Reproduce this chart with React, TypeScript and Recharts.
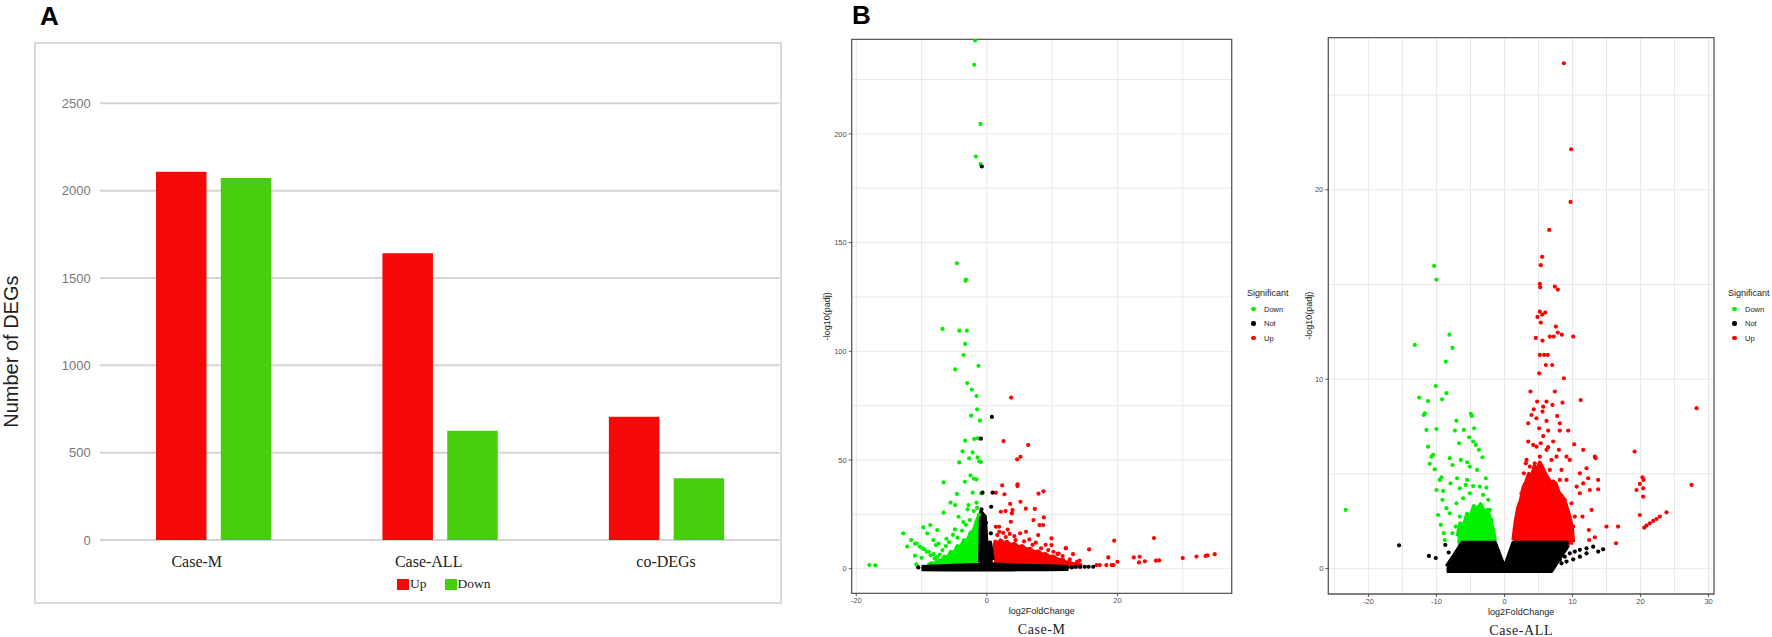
import React from 'react';
import {
  BarChart, Bar, XAxis, YAxis, CartesianGrid, Legend,
  ComposedChart, Scatter, Area, ReferenceArea,
} from 'recharts';

const SANS = '"Liberation Sans", Arial, Helvetica, sans-serif';
const SERIF = '"Liberation Serif", "Times New Roman", serif';

// ---------------- Panel A data ----------------
const CATEGORIES = ['Case-M', 'Case-ALL', 'co-DEGs'];
const UP_COUNTS = [2108, 1641, 706];
const DOWN_COUNTS = [2072, 626, 353];
const COUNT_TICKS = [0, 500, 1000, 1500, 2000, 2500];
const BAR_SERIES = ['Up', 'Down'];

// ---------------- Panel B data ----------------
const LEVELS = ['Down', 'Not', 'Up'];

const M_X_MAJOR = [-20, 0, 20];
const M_X_MINOR = [-10, 10, 30];
const M_Y_MAJOR = [0, 50, 100, 150, 200];
const M_Y_MINOR = [25, 75, 125, 175, 225];

const A_X_MAJOR = [-20, -10, 0, 10, 20, 30];
const A_X_MINOR = [-25, -15, -5, 5, 15, 25];
const A_Y_MAJOR = [0, 10, 20];
const A_Y_MINOR = [5, 15, 25];

type Pt = [number, number];
type Band = [number, number, number];

// Case-M volcano: [log2FoldChange, -log10(padj)]
const M_DOWN: Pt[] = [
  [-1.8, 243], [-1.94, 231.8], [-0.97, 204.6], [-1.68, 189.6], [-0.97, 186.1], [-4.6, 140.5], [-3.26, 132.4], [-3.2, 133],
  [-6.79, 110.3], [-4.23, 109.5], [-3.06, 109.5], [-3.32, 103.4], [-3.57, 98.3], [-1.28, 93.3], [-4.85, 91.7], [-3.01, 85.4],
  [-2.3, 82.4], [-1.58, 79.4], [-1.48, 73.3], [-2.4, 70.4], [-1.07, 68.1], [-3.32, 58.9], [-1.94, 59.7], [-1.38, 60],
  [-3.72, 54], [-2.19, 53.5], [-4.23, 48.9], [-2.7, 50.8], [-1.43, 51.2], [-1.17, 49.4], [-0.92, 49.1], [-2.5, 42.9],
  [-1.99, 41.4], [-1.58, 41.1], [-3.37, 40], [-6.63, 39.7], [-2.19, 35], [-4.59, 34.4], [-0.87, 34.7], [-5.56, 30.4],
  [-4.85, 29.3], [-2.81, 29.3], [-1.58, 30.4], [-2.96, 27.3], [-6.63, 25.8], [-4.34, 23.9], [-1.22, 24.8], [-8.67, 20.1],
  [-9.74, 19], [-12.8, 16.3], [-9.13, 16.3], [-7.6, 17.8], [-4.9, 18.1], [-11.58, 13.2], [-10.77, 11.7], [-8.2, 13.2],
  [-7.8, 10.9], [-6.28, 10.4], [-18.0, 1.7], [-17.1, 1.5], [-10.8, 2],
  [-7.2, 6.5], [-6.8, 8.6], [-5.8, 12.2], [-4.5, 14.3], [-3.8, 17.5], [-3.2, 20.2], [-2.6, 22.4], [-5.2, 15.6],
  [-9.9, 9.5], [-9.2, 7.8], [-8.6, 6.2], [-8.0, 4.8], [-11, 6], [-10, 5], [-12.2, 10.2], [-2.0, 26.5], [-1.5, 28],
  [-3.6, 21.5], [-6.2, 13.8], [-7.4, 11.6], [-11, 11.5], [-10.3, 10.2], [-9.6, 9], [-8.9, 7.8], [-8.2, 6.7], [-7.6, 5.5],
];
const M_NOT: Pt[] = [
  [-0.77, 185], [0.77, 69.8], [-0.92, 59.8], [-0.66, 35], [0.87, 35], [0.66, 28.5], [-0.82, 27.3], [0.61, 16.3],
  [-0.15, 21.2], [-10.5, 0.6], [-9.4, 0.8], [-8.6, 1.0], [10.5, 0.7], [11.2, 0.8], [12.1, 0.6], [13.0, 0.6],
  [13.6, 0.9], [14.3, 0.9], [15.0, 0.9], [15.6, 0.9], [16.3, 0.9],
];
const M_UP: Pt[] = [
  [3.72, 78.7], [2.55, 58.7], [6.33, 56.9], [5.15, 51.5], [4.64, 50.3], [2.35, 38.3], [4.69, 38.8], [4.69, 38],
  [8.67, 35.6], [7.91, 34.5], [1.38, 35], [2.7, 34.2], [3.57, 29.8], [5.15, 30.8], [3.93, 27], [3.83, 25.5],
  [5.97, 27.6], [2.86, 26.5], [2.14, 26.2], [7.35, 27.5], [8.72, 23.6], [7.14, 22.4], [8.62, 20.1], [3.67, 21.6],
  [1.38, 19.3], [1.89, 19.3], [8.06, 20.1], [5.1, 16.3], [7.86, 15.5], [12.09, 9.4], [15.66, 8.9], [12.7, 4.3],
  [14.2, 3.7], [9.9, 14], [9.9, 10.9], [10.2, 7.8], [12.1, 9.5], [19.5, 12.9], [18.6, 5.2], [20, 3.2], [22.5, 5.2],
  [23.4, 5.5], [23.3, 2.9], [24.2, 3.4], [25.6, 14.1], [25.9, 3.7], [26.4, 3.8], [30, 4.9], [32.1, 5.6], [33.5, 5.9],
  [33.8, 6.1], [34.9, 6.7], [16.8, 1.7], [17.3, 1.7], [18.3, 1.7], [19.1, 1.7], [19.4, 1.7], [13.2, 6.7], [11.7, 4.0],
  [2.5, 16.5], [4.2, 15], [6.5, 13.5], [3.2, 18], [6, 17], [9, 11], [11, 7], [7.5, 12],
  [1.6, 15.5], [2.9, 14.6], [4.4, 13.2], [5.7, 12.6], [7.0, 11], [8.3, 9.4], [9.4, 8.6], [10.8, 6.8], [11.6, 5.8],
  [13.8, 3.2], [1.9, 17.0], [3.5, 16.0],
];
const M_DOWN_CLOUD: Band[] = [
  [-9.0, 1, 1.6], [-8.5, 1, 2.6], [-8.0, 1, 2.2], [-7.5, 1, 3.8], [-7.0, 1, 3.4], [-6.5, 1, 5.6], [-6.0, 1, 5.0],
  [-5.5, 1, 7.8], [-5.0, 1, 7.2], [-4.5, 1, 10.4], [-4.0, 1, 9.8], [-3.5, 1, 13.2], [-3.0, 1, 12.6], [-2.5, 1, 16.5],
  [-2.0, 1, 17.5], [-1.6, 1, 21.5], [-1.25, 1, 24], [-1.05, 2, 19],
];
const M_UP_CLOUD: Band[] = [
  [1.1, 1, 7], [1.3, 1, 12.5], [1.7, 1, 11.5], [2.1, 1, 13], [2.6, 1, 11.8], [3.1, 1, 12.4], [3.6, 1, 10.8],
  [4.2, 1, 11.5], [4.8, 1, 9.8], [5.4, 1, 10.4], [6.0, 1, 8.8], [6.6, 1, 9.2], [7.2, 1, 7.6], [7.8, 1, 8.0],
  [8.4, 1, 6.6], [9.0, 1, 6.8], [9.6, 1, 5.4], [10.2, 1, 5.6], [10.8, 1, 4.2], [11.4, 1, 4.0], [12.0, 1, 3.0],
  [12.8, 1, 2.6], [13.6, 1, 1.9], [14.6, 1, 1.5],
];
const M_NOT_BAND: Band[] = [
  [-10, -0.2, 0.8], [-6, -0.3, 1.3], [-1, -0.4, 1.8], [0, -0.4, 2.2], [4, -0.3, 1.5], [9, -0.2, 1.1], [12.5, -0.1, 0.8],
];
const M_NOT_STRIP: Band[] = [
  [-1.05, 0, 3], [-0.9, 0, 26], [-0.3, 0, 24], [0, 0, 9], [0.5, 0, 12], [0.9, 0, 4],
];

// Case-ALL volcano
const A_DOWN: Pt[] = [
  [-23.34, 3.1], [-10.34, 15.98], [-10.0, 15.26], [-13.19, 11.81], [-8.09, 12.35], [-7.65, 11.65],
  [-8.63, 10.93], [-10.1, 9.64], [-8.53, 9.26], [-12.55, 9.03], [-11.23, 8.85], [-9.17, 8.94], [-11.7, 8.2],
  [-11.86, 8.11], [-4.95, 8.17], [-4.8, 8.06], [-7.06, 7.81], [-11.47, 7.32], [-10.0, 7.37], [-7.3, 7.29],
  [-5.98, 7.32], [-4.46, 7.41], [-6.67, 6.62], [-5.2, 6.93], [-4.61, 6.71], [-4.22, 6.53], [-3.77, 6.27],
  [-11.23, 6.44], [-10.49, 6.0], [-10.74, 5.91], [-8.04, 5.83], [-6.42, 5.74], [-3.24, 5.88], [-10.98, 5.53],
  [-7.65, 5.47], [-5.49, 5.61], [-5.1, 5.39], [-10.25, 5.24], [-4.02, 5.21], [-9.26, 4.82], [-9.51, 4.68],
  [-6.96, 4.77], [-5.49, 4.68], [-2.75, 4.77], [-10.0, 4.15], [-9.02, 4.1], [-7.94, 4.5], [-6.57, 4.24],
  [-5.69, 4.42], [-4.61, 4.36], [-3.63, 4.33], [-2.65, 4.28], [-9.12, 3.63], [-8.53, 3.19], [-8.04, 2.92],
  [-9.75, 2.83], [-9.36, 2.31], [-8.92, 1.87], [-7.65, 1.87], [-8.77, 1.51], [-7.06, 3.45], [-6.08, 3.71],
  [-5.1, 3.98], [-3.14, 3.89], [-2.4, 3.63], [-6.57, 2.75], [-7.16, 2.22], [-2.16, 3.1], [-1.91, 2.57],
];
const A_NOT: Pt[] = [
  [-15.5, 1.23], [-11.1, 0.67], [-10.1, 0.56], [-8.7, 1.25], [-8.2, 0.85], [-6.6, 0.99],
  [8.14, 0.46], [8.87, 0.63], [9.6, 0.81], [10.34, 0.9], [11.08, 0.99], [12.06, 1.07], [13.04, 1.16], [13.77, 0.9],
  [14.5, 1.02], [8.38, 0.28], [9.12, 0.37], [10.1, 0.49], [11.08, 0.63], [12.06, 0.81],
];
const A_UP: Pt[] = [
  [8.73, 26.68], [9.8, 22.14], [9.71, 19.36], [6.57, 17.88], [5.54, 16.46], [5.34, 16.02], [5.2, 15.03], [5.25, 14.85],
  [7.4, 14.89], [7.84, 14.73], [5.2, 13.57], [5.54, 13.41], [5.98, 13.52], [4.85, 13.29],
  [5.34, 12.99], [7.55, 12.78], [7.84, 12.46], [8.43, 12.35], [10.1, 12.25], [4.61, 12.18], [5.59, 12.04], [6.67, 12.25],
  [7.25, 12.25], [5.2, 11.28], [5.83, 11.28], [6.37, 11.28], [6.08, 10.75], [7.01, 10.75], [5.1, 10.31], [8.73, 10.05],
  [3.82, 9.35], [7.4, 9.35], [11.2, 8.9], [4.8, 8.82], [6.18, 8.82], [8.53, 8.76], [7.06, 8.64], [5.69, 8.55],
  [4.31, 8.41], [5.59, 8.29], [3.97, 8.11], [4.7, 7.94], [6.18, 7.8], [7.75, 8.06], [3.48, 7.67], [8.14, 7.67],
  [5.1, 7.41], [6.42, 7.29], [8.14, 7.29], [9.36, 7.29], [3.48, 6.71], [4.22, 6.53], [5.34, 6.62], [6.42, 6.41],
  [7.16, 6.71], [10.25, 6.56], [11.57, 6.27], [7.99, 6.27], [9.12, 5.91], [13.28, 5.91], [13.4, 5.83], [9.6, 5.74],
  [3.24, 5.74], [3.73, 5.39], [12.06, 5.3], [11.08, 5.03], [12.3, 4.77], [13.77, 4.68], [11.57, 4.5], [10.6, 4.33],
  [13.77, 4.19], [12.55, 4.15], [11.08, 3.98], [12.8, 3.1], [11.47, 2.75], [12.4, 2.04], [12.45, 1.51], [15.0, 2.22],
  [16.7, 2.22], [16.4, 1.34], [13.28, 1.65],
  [2.5, 3.98], [2.84, 5.03], [3.14, 5.56], [8.87, 3.63], [9.85, 3.45], [10.34, 2.75], [10.1, 2.22], [9.12, 4.68],
  [7.16, 4.59], [5.69, 7.0], [4.7, 6.44], [6.91, 5.74], [8.38, 5.21], [7.65, 5.91], [6.18, 6.27], [5.2, 5.91],
  [4.46, 5.56], [3.97, 4.86], [6.67, 5.21], [8.14, 4.68],
  [19.12, 6.18], [20.29, 4.82], [20.44, 4.68], [19.9, 4.47], [20.39, 4.24], [20.39, 3.8], [19.41, 4.15], [27.5, 4.42],
  [28.24, 8.47], [23.82, 2.97], [22.84, 2.75], [22.35, 2.62], [21.86, 2.52], [21.37, 2.39], [20.88, 2.27], [20.54, 2.16],
  [19.9, 2.83],
];
const A_DOWN_CLOUD: Band[] = [
  [-6.9, 1.37, 1.7], [-6.5, 1.37, 2.4], [-6.0, 1.37, 2.2], [-5.5, 1.37, 2.9], [-5.0, 1.37, 2.7], [-4.5, 1.37, 3.3],
  [-4.0, 1.37, 3.1], [-3.5, 1.37, 3.4], [-3.0, 1.37, 3.0], [-2.5, 1.37, 3.1], [-2.0, 1.37, 2.5], [-1.6, 1.37, 1.9],
  [-1.4, 1.37, 1.45],
];
const A_UP_CLOUD: Band[] = [
  [1.3, 1.37, 1.5], [1.6, 1.37, 2.4], [2.0, 1.37, 3.2], [2.4, 1.37, 3.6], [2.8, 1.37, 4.3], [3.2, 1.37, 4.6],
  [3.6, 1.37, 5.0], [4.0, 1.37, 4.8], [4.4, 1.37, 5.4], [4.8, 1.37, 5.2], [5.2, 1.37, 5.6], [5.6, 1.37, 5.3],
  [6.0, 1.37, 5.0], [6.5, 1.37, 4.7], [7.0, 1.37, 4.4], [7.5, 1.37, 4.5], [8.0, 1.37, 4.0], [8.5, 1.37, 3.8],
  [9.0, 1.37, 3.4], [9.5, 1.37, 2.8], [9.9, 1.37, 2.2], [10.1, 1.37, 1.4],
];
const A_NOT_CLOUD: Band[] = [
  [-8.5, -0.12, 0.12], [-7.4, -0.12, 0.7], [-6.2, -0.12, 1.37], [-1.4, -0.12, 1.37], [0, -0.12, 0.05],
  [1.3, -0.12, 1.37], [6.9, -0.12, 1.37], [8.2, 0.6, 1.37], [9.4, 1.25, 1.37],
];

// ---------------- styling ----------------
const RED_BAR = '#f60808';
const GREEN_BAR = '#46cd0c';
const GREEN = '#00f000';
const RED = '#ff0000';
const BLACK = '#000000';
const GRID = '#ebe7eb';
const FRAME = '#5a5a5a';
const CAT_SHIFT = [-16.5, -11, 0];

const toPts = (a: Pt[]) => a.map(([x, y]) => ({ x, y }));
const toBand = (a: Band[]) => a.map(([x, lo, hi]) => ({ x, band: [lo, hi] }));
const sortNum = (a: number[]) => [...a].sort((p, q) => p - q);

const dotShape = (color: string) => (p: any) => (
  <circle cx={p.cx} cy={p.cy} r={2.1} fill={color} />
);

const CatTick = (props: any) => {
  const { x, y, payload, index } = props;
  return (
    <text x={x + (CAT_SHIFT[index] || 0)} y={y + 27} textAnchor="middle" fontSize={16} fontFamily={SERIF} fill="#222">
      {payload.value}
    </text>
  );
};

const barYTitle = (props: any) => {
  const vb = props.viewBox;
  const cx = vb.x + 11;
  const cy = vb.y + vb.height / 2 + 30;
  return (
    <text x={cx} y={cy} transform={`rotate(-90, ${cx}, ${cy})`} textAnchor="middle" dominantBaseline="central"
      fontSize={20} fontFamily={SANS} fill="#222">Number of DEGs</text>
  );
};

const BarLegend = (props: any) => {
  const payload = props.payload || [];
  const items = BAR_SERIES.map((s) => payload.find((p: any) => p.value === s)).filter(Boolean);
  return (
    <div style={{ display: 'flex', alignItems: 'center', fontFamily: SERIF, fontSize: 13.5, color: '#222', lineHeight: '16px' }}>
      {items.map((p: any) => (
        <div key={p.value} style={{ display: 'flex', alignItems: 'center', marginRight: 18 }}>
          <span style={{ display: 'inline-block', width: 12, height: 11, background: p.color, marginRight: 1 }} />
          <span>{p.value}</span>
        </div>
      ))}
    </div>
  );
};

const VolcanoLegend = (props: any) => {
  const payload = props.payload || [];
  const items = LEVELS.map((l) => payload.find((p: any) => p.value === l)).filter(Boolean);
  return (
    <div style={{ fontFamily: SANS, color: '#222' }}>
      <div style={{ fontSize: 9, lineHeight: '12px', marginBottom: 2.75 }}>Significant</div>
      {items.map((it: any) => (
        <div key={it.value} style={{ display: 'flex', alignItems: 'center', height: 14.5, fontSize: 7.5 }}>
          <span style={{ display: 'inline-block', width: 4.5, height: 4.5, borderRadius: '50%', background: it.color, marginLeft: 4, marginRight: 8.5 }} />
          <span>{it.value}</span>
        </div>
      ))}
    </div>
  );
};

const volTick = (axis: 'x' | 'y', major: number[]) => (props: any) => {
  const { x, y, payload } = props;
  const v = payload?.value;
  if (!major.includes(v)) return <g />;
  if (axis === 'x') {
    return (
      <g>
        <line x1={x} x2={x} y1={y} y2={y + 3} stroke="#333" strokeWidth={0.8} />
        <text x={x} y={y + 4.5} dy="0.71em" textAnchor="middle" fontSize={7.5} fontFamily={SANS} fill="#4d4d4d">{v}</text>
      </g>
    );
  }
  return (
    <g>
      <line x1={x - 3} x2={x} y1={y} y2={y} stroke="#333" strokeWidth={0.8} />
      <text x={x - 5} y={y} dy="0.35em" textAnchor="end" fontSize={7.5} fontFamily={SANS} fill="#4d4d4d">{v}</text>
    </g>
  );
};

const xTitle = (title: string, d1: number, d2: number) => (props: any) => {
  const vb = props.viewBox;
  const cx = vb.x + vb.width / 2;
  return (
    <g>
      <text x={cx} y={vb.y + d1} textAnchor="middle" dominantBaseline="central" fontSize={9} fontFamily={SANS} fill="#222">log2FoldChange</text>
      <text x={cx} y={vb.y + d2} textAnchor="middle" dominantBaseline="central" fontSize={14} letterSpacing={0.6} fontFamily={SERIF} fill="#222">{title}</text>
    </g>
  );
};

const yTitle = (dx: number) => (props: any) => {
  const vb = props.viewBox;
  const cx = vb.x + dx;
  const cy = vb.y + vb.height / 2;
  return (
    <text x={cx} y={cy} transform={`rotate(-90, ${cx}, ${cy})`} textAnchor="middle" dominantBaseline="central"
      fontSize={9} fontFamily={SANS} fill="#222">-log10(padj)</text>
  );
};

type VProps = {
  left: number; width: number; top: number; right: number; yAxisWidth: number; xAxisHeight: number;
  xDomain: [number, number]; yDomain: [number, number];
  xMajor: number[]; xMinor: number[]; yMajor: number[]; yMinor: number[];
  down: Pt[]; not: Pt[]; up: Pt[]; downCloud: Band[]; upCloud: Band[]; notClouds: Band[][];
  title: string; yTitleDx: number; legendLeft: number; titleD1: number; titleD2: number;
};

function Volcano(p: VProps) {
  const cloud = (data: Band[], color: string, key: string) => (
    <Area key={key} data={toBand(data)} dataKey="band" type="linear" fill={color} fillOpacity={1} stroke={color}
      strokeWidth={4} strokeLinejoin="round" isAnimationActive={false} legendType="none" dot={false} activeDot={false} />
  );
  return (
    <div style={{ position: 'absolute', left: p.left, top: 0 }}>
      <ComposedChart width={p.width} height={637} margin={{ top: p.top, right: p.right, bottom: 0, left: 0 }}>
        <CartesianGrid stroke={GRID} strokeWidth={1} />
        <XAxis type="number" dataKey="x" domain={p.xDomain} allowDataOverflow ticks={sortNum([...p.xMajor, ...p.xMinor])}
          interval={0} height={p.xAxisHeight} axisLine={false} tickLine={false} tickSize={0} tickMargin={0}
          tick={volTick('x', p.xMajor)} label={{ content: xTitle(p.title, p.titleD1, p.titleD2) } as any} />
        <YAxis type="number" dataKey="y" domain={p.yDomain} allowDataOverflow ticks={sortNum([...p.yMajor, ...p.yMinor])}
          interval={0} width={p.yAxisWidth} axisLine={false} tickLine={false} tickSize={0} tickMargin={0}
          tick={volTick('y', p.yMajor)} label={{ content: yTitle(p.yTitleDx) } as any} />
        {cloud(p.downCloud, GREEN, 'dc')}
        {cloud(p.upCloud, RED, 'uc')}
        {p.notClouds.map((c, i) => cloud(c, BLACK, 'nc' + i))}
        <Scatter data={toPts(p.down)} name="Down" fill={GREEN} shape={dotShape(GREEN)} isAnimationActive={false} />
        <Scatter data={toPts(p.up)} name="Up" fill={RED} shape={dotShape(RED)} isAnimationActive={false} />
        <Scatter data={toPts(p.not)} name="Not" fill={BLACK} shape={dotShape(BLACK)} isAnimationActive={false} />
        <ReferenceArea x1={p.xDomain[0]} x2={p.xDomain[1]} y1={p.yDomain[0]} y2={p.yDomain[1]}
          fill="none" fillOpacity={0} stroke={FRAME} strokeWidth={1.3} />
        <Legend layout="horizontal" verticalAlign="middle" align="center" content={VolcanoLegend}
          wrapperStyle={{ left: p.legendLeft, top: 287, width: 60, height: 60 }} />
      </ComposedChart>
    </div>
  );
}

export default function App() {
  const barData = CATEGORIES.map((c, i) => ({ cat: c, up: UP_COUNTS[i], down: DOWN_COUNTS[i] }));
  return (
    <div style={{ position: 'absolute', left: 0, top: 0, width: 1772, height: 637, background: '#fff', overflow: 'hidden' }}>
      <div style={{ position: 'absolute', left: 40, top: 3, fontFamily: SANS, fontWeight: 700, fontSize: 26, lineHeight: '26px', color: '#000' }}>A</div>
      <div style={{ position: 'absolute', left: 852, top: 1.5, fontFamily: SANS, fontWeight: 700, fontSize: 26, lineHeight: '26px', color: '#000' }}>B</div>
      <div style={{ position: 'absolute', left: 34, top: 42, width: 748, height: 562, border: '2px solid #d9d9dc', boxSizing: 'border-box' }} />
      <div style={{ position: 'absolute', left: 0, top: 0 }}>
        <BarChart width={790} height={637} data={barData} margin={{ top: 103.3, right: 10.7, bottom: 0, left: 0 }}
          barSize={50.5} barGap={14.3}>
          <CartesianGrid vertical={false} stroke="#d4d4d8" strokeWidth={2} />
          <XAxis dataKey="cat" height={97} axisLine={false} tickLine={false} tickSize={0} tickMargin={0}
            tick={<CatTick />} interval={0} />
          <YAxis width={100} domain={[0, 2500]} ticks={COUNT_TICKS} interval={0} axisLine={false} tickLine={false}
            tickSize={0} tickMargin={9.3} tick={{ fontSize: 13, fill: '#777', fontFamily: SANS }}
            label={{ content: barYTitle } as any} />
          <Bar dataKey="up" name="Up" fill={RED_BAR} isAnimationActive={false} />
          <Bar dataKey="down" name="Down" fill={GREEN_BAR} isAnimationActive={false} />
          <Legend layout="horizontal" verticalAlign="middle" align="center" content={BarLegend}
            wrapperStyle={{ left: 397, top: 576, width: 200, height: 16 }} />
        </BarChart>
      </div>
      <Volcano left={790} width={500} top={39.3} right={58.3} yAxisWidth={61.7} xAxisHeight={43.7}
        xDomain={[-20.7, 37.5]} yDomain={[-11.3, 243.5]}
        xMajor={M_X_MAJOR} xMinor={M_X_MINOR} yMajor={M_Y_MAJOR} yMinor={M_Y_MINOR}
        down={M_DOWN} not={M_NOT} up={M_UP} downCloud={M_DOWN_CLOUD} upCloud={M_UP_CLOUD}
        notClouds={[M_NOT_BAND, M_NOT_STRIP]} title="Case-M" yTitleDx={36.7} legendLeft={457} titleD1={17.7} titleD2={35.7} />
      <Volcano left={1290} width={482} top={37.7} right={58} yAxisWidth={38.3} xAxisHeight={43}
        xDomain={[-25.9, 30.8]} yDomain={[-1.34, 28.03]}
        xMajor={A_X_MAJOR} xMinor={A_X_MINOR} yMajor={A_Y_MAJOR} yMinor={A_Y_MINOR}
        down={A_DOWN} not={A_NOT} up={A_UP} downCloud={A_DOWN_CLOUD} upCloud={A_UP_CLOUD}
        notClouds={[A_NOT_CLOUD]} title="Case-ALL" yTitleDx={19} legendLeft={438} titleD1={18} titleD2={36} />
    </div>
  );
}
